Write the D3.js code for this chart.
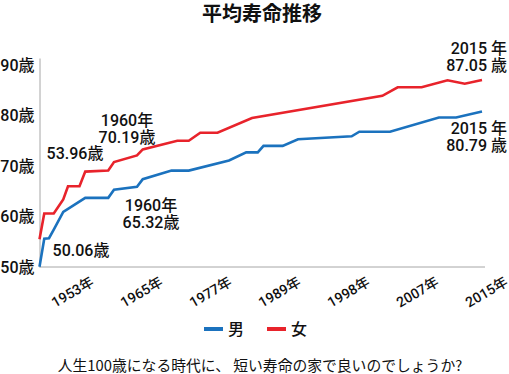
<!DOCTYPE html>
<html>
<head>
<meta charset="utf-8">
<script src="https://cdn.jsdelivr.net/npm/d3@7"></script>
<style>
  body { margin: 0; background: #fff; }
  svg text { font-family: Roboto, "Noto Sans CJK JP", sans-serif; fill: #111; }
</style>
</head>
<body>
<script>
// years at the corners of each line
var maleYears   = [1947, 1948, 1949, 1950, 1952, 1956, 1960, 1961, 1965, 1966, 1971, 1974, 1981, 1984, 1986, 1987, 1990, 1992, 1999, 2000, 2004, 2010, 2012, 2015];
var maleValues  = [50.06, 55.6, 55.7, 57.4, 60.9, 63.7, 63.7, 65.3, 65.9, 67.4, 69.1, 69.1, 71.1, 72.7, 72.7, 74.0, 74.0, 75.3, 75.9, 76.8, 76.8, 79.6, 79.6, 80.79];

var femaleYears  = [1947, 1948, 1950, 1952, 1953, 1955, 1956, 1960, 1961, 1965, 1966, 1972, 1974, 1976, 1979, 1985, 2003, 2005, 2008, 2011, 2013, 2015];
var femaleValues = [55.5, 60.6, 60.6, 63.4, 66.0, 66.0, 68.9, 69.1, 70.8, 72.1, 73.3, 75.0, 75.0, 76.6, 76.6, 79.5, 83.9, 85.6, 85.6, 87.0, 86.3, 87.05];

var tickYears  = [1953, 1965, 1977, 1989, 1998, 2007, 2015];
var yTicks     = [50, 60, 70, 80, 90];
var seriesNames = ["男", "女"];
var notes = [
  ["1960年", "70.19歳"],
  ["53.96歳"],
  ["1960年", "65.32歳"],
  ["50.06歳"],
  ["2015 年", "87.05 歳"],
  ["2015 年", "80.79 歳"]
];

var W = 509, H = 374;
var blue = "#1b72be", red = "#e8232b";

var svg = d3.select("body").append("svg")
    .attr("width", W)
    .attr("height", H);

// category axis: labelled years sit evenly, first year just left of 1953
var left = 39.5, right = 482, step = 69;
var x = d3.scaleLinear()
    .domain([1947].concat(tickYears))
    .range([left].concat(tickYears.map(function(d, i) { return right - (tickYears.length - 1 - i) * step; })));

var y = d3.scaleLinear().domain([50, 91.4]).range([267, 58]);

// title
svg.append("text")
    .attr("x", 262).attr("y", 21)
    .attr("text-anchor", "middle")
    .style("font-family", "'Noto Sans CJK JP'")
    .style("font-weight", "bold")
    .style("font-size", "20px")
    .text("平均寿命推移");

// axes
var yAxis = svg.append("g")
    .attr("transform", "translate(" + left + ",0)")
    .call(d3.axisLeft(y).tickValues(yTicks).tickSize(0).tickPadding(5).tickFormat(function(d) { return d + "歳"; }));
yAxis.select(".domain").attr("stroke", "#a6a6a6");
yAxis.selectAll("text").style("font-size", "16px").style("font-weight", 500).attr("fill", "#111");

var xAxis = svg.append("g")
    .attr("transform", "translate(0," + y(50) + ")")
    .call(d3.axisBottom(x).tickValues(tickYears).tickSize(0).tickFormat(function(d) { return d + "年"; }));
xAxis.select(".domain").attr("stroke", "#a6a6a6").attr("d", "M" + left + ",0H485");
xAxis.selectAll("text")
    .attr("y", 0).attr("dy", "0.35em")
    .attr("text-anchor", "middle")
    .attr("transform", "translate(4,25) rotate(-30)")
    .style("font-size", "14px")
    .style("font-weight", 500)
    .attr("fill", "#111");

// lines
var line = d3.line()
    .x(function(d) { return x(d[0]); })
    .y(function(d) { return y(d[1]); });

svg.append("path")
    .datum(d3.zip(maleYears, maleValues))
    .attr("d", line)
    .attr("fill", "none")
    .attr("stroke", blue)
    .attr("stroke-width", 2.6);

svg.append("path")
    .datum(d3.zip(femaleYears, femaleValues))
    .attr("d", line)
    .attr("fill", "none")
    .attr("stroke", red)
    .attr("stroke-width", 2.6);

// annotations
var notePos = [
  { x: 127, y: 126, anchor: "middle" },
  { x: 75, y: 159, anchor: "middle" },
  { x: 151, y: 211, anchor: "middle" },
  { x: 81, y: 256, anchor: "middle" },
  { x: 507, y: 54, anchor: "end" },
  { x: 507, y: 134, anchor: "end" }
];
notes.forEach(function(lines, i) {
  var t = svg.append("text")
      .attr("x", notePos[i].x)
      .attr("y", notePos[i].y)
      .attr("text-anchor", notePos[i].anchor)
      .style("font-size", "16px")
      .style("font-weight", 500);
  lines.forEach(function(s, j) {
    t.append("tspan")
        .attr("x", notePos[i].x)
        .attr("dy", j === 0 ? 0 : 17)
        .text(s);
  });
});

// legend
var lg = svg.append("g");
[blue, red].forEach(function(c, i) {
  var lx = 204 + i * 63;
  lg.append("line")
      .attr("x1", lx).attr("x2", lx + 19)
      .attr("y1", 329).attr("y2", 329)
      .attr("stroke", c).attr("stroke-width", 4);
  lg.append("text")
      .attr("x", lx + 24).attr("y", 335)
      .style("font-family", "'Noto Sans CJK JP'")
      .style("font-size", "16px")
      .style("font-weight", 500)
      .text(seriesNames[i]);
});

// footer
svg.append("text")
    .attr("x", 260).attr("y", 371)
    .attr("text-anchor", "middle")
    .style("font-family", "'Noto Sans CJK JP'")
    .style("font-size", "14.8px")
    .text("人生100歳になる時代に、 短い寿命の家で良いのでしょうか?");
</script>
</body>
</html>
